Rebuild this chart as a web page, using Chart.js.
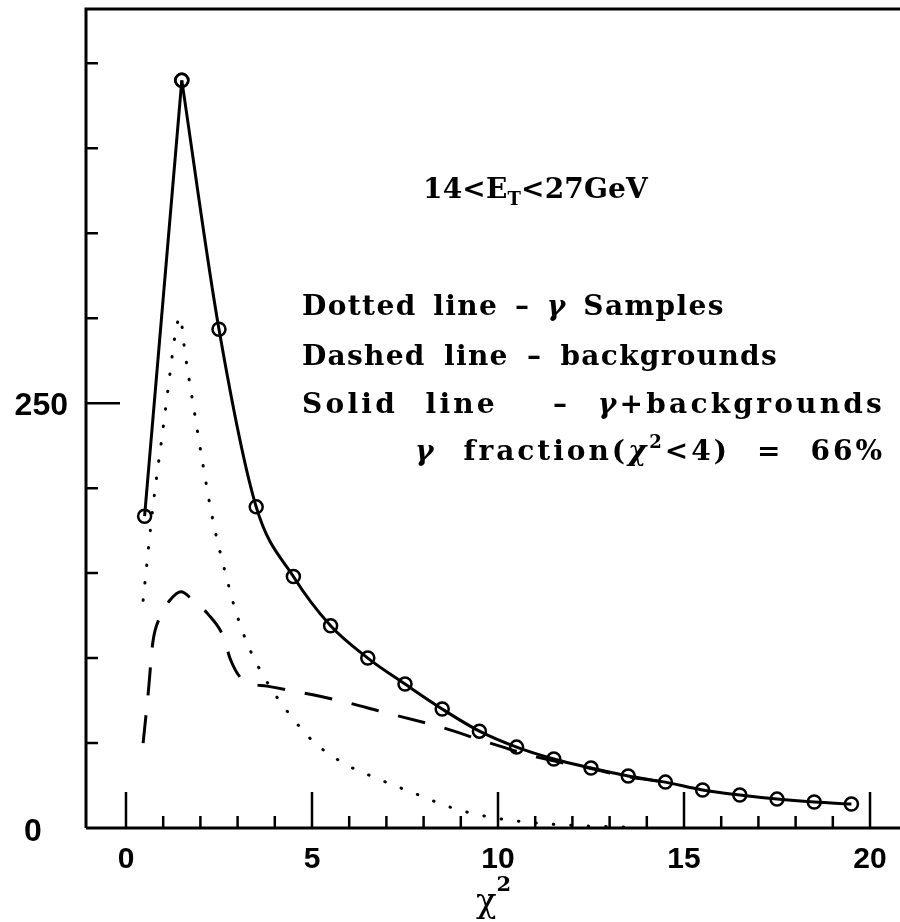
<!DOCTYPE html>
<html>
<head>
<meta charset="utf-8">
<script src="https://cdn.jsdelivr.net/npm/chart.js@4.4.0/dist/chart.umd.min.js"></script>
<style>
  html, body { margin: 0; padding: 0; background: #fff; overflow: hidden; }
  canvas { display: block; }
</style>
</head>
<body>
<canvas id="chi2" width="900" height="922"></canvas>
<script>
// solid line: gamma + backgrounds, one point per chi2 bin
const chiBins = [0.5, 1.5, 2.5, 3.5, 4.5, 5.5, 6.5, 7.5, 8.5, 9.5, 10.5, 11.5, 12.5, 13.5, 14.5, 15.5, 16.5, 17.5, 18.5, 19.5];
const totalCounts = [183.5, 440, 293.5, 189, 148, 119, 100, 84.7, 70, 57, 47.6, 40.6, 35.3, 30.6, 27, 22.4, 19.4, 17, 15.3, 14.1];

// dotted line: gamma samples
const gammaX = [0.46, 0.73, 0.99, 1.18, 1.32, 1.45, 1.59, 1.83, 2.07, 2.34, 2.69, 2.96, 3.31, 3.79, 4.36, 5.03, 5.86, 6.8, 7.8, 8.79, 9.76, 10.78, 12, 13.5];
const gammaY = [134, 190, 234, 267, 290, 301, 279, 246, 213.6, 180.7, 148.5, 126.8, 106, 86, 68, 51, 38, 28.7, 20, 11.7, 6.5, 3.5, 1.5, 0.5];

// dashed line: backgrounds
const bkgX = [0.46, 0.6, 0.72, 0.91, 1.18, 1.48, 1.8, 2.2, 2.63, 2.8, 3.15, 3.79, 4.5, 5.83, 6.83, 8.52, 9.78, 11.05, 12.5, 13.4, 14.3];
const bkgY = [50, 80, 109, 124, 134, 139, 134, 126, 112, 99.6, 87, 83.5, 80.6, 74.5, 68.7, 59, 50, 41.7, 35, 30.6, 27.5];

const xTickLabels = [0, 5, 10, 15, 20];
const yTickLabels = [0, 250];
const yMinorStep = 50;

const serif = '"DejaVu Serif", "Liberation Serif", serif';

function toPoints(xs, ys) {
  return xs.map((x, i) => ({ x: x, y: ys[i] }));
}

// draws a row of text pieces from x0 to x1: part of the slack goes to letter
// spacing (frac), the rest widens the blanks
function drawFit(ctx, x0, x1, y, runs, frac) {
  const toks = [];
  runs.forEach((r) => {
    r.t.split(/( )/).forEach((t) => {
      if (t !== "") toks.push({ t: t, font: r.font, dy: r.dy || 0 });
    });
  });
  ctx.letterSpacing = "0px";
  let w = 0;
  let n = 0;
  let nSp = 0;
  toks.forEach((k) => {
    ctx.font = k.font;
    w += ctx.measureText(k.t).width;
    n += [...k.t].length;
    if (k.t === " ") nSp++;
  });
  const slack = Math.max(0, x1 - x0 - w);
  const ls = nSp ? (slack * frac) / n : slack / Math.max(n, 1);
  const sp = nSp ? (slack * (1 - frac)) / nSp : 0;
  ctx.letterSpacing = ls.toFixed(2) + "px";
  let x = x0;
  toks.forEach((k) => {
    ctx.font = k.font;
    const kw = ctx.measureText(k.t).width;
    if (k.t === " ") {
      x += kw + sp;
    } else {
      ctx.fillText(k.t, x, y + k.dy);
      x += kw;
    }
  });
  ctx.letterSpacing = "0px";
}

// frame, inward ticks and the text written on the plot
const framePlugin = {
  id: "frame",
  afterDraw(chart) {
    const ctx = chart.ctx;
    const area = chart.chartArea;
    const xs = chart.scales.x;
    const ys = chart.scales.y;
    ctx.save();
    ctx.strokeStyle = "#000";
    ctx.fillStyle = "#000";
    ctx.lineWidth = 3;
    ctx.beginPath();
    ctx.moveTo(area.left, area.bottom);
    ctx.lineTo(area.left, area.top);
    ctx.lineTo(area.right, area.top);
    ctx.moveTo(area.left, area.bottom);
    ctx.lineTo(area.right, area.bottom);
    ctx.stroke();

    ctx.lineWidth = 2.5;
    ctx.beginPath();
    for (let v = 0; v <= 20; v++) {
      const px = xs.getPixelForValue(v);
      const len = xTickLabels.includes(v) ? 36 : 12;
      ctx.moveTo(px, area.bottom);
      ctx.lineTo(px, area.bottom - len);
    }
    for (let v = yMinorStep; v < ys.max; v += yMinorStep) {
      const py = ys.getPixelForValue(v);
      const len = yTickLabels.includes(v) ? 34 : 12;
      ctx.moveTo(area.left, py);
      ctx.lineTo(area.left + len, py);
    }
    ctx.stroke();

    // y tick labels
    ctx.font = 'bold 32px "Liberation Sans", Arial, sans-serif';
    ctx.textBaseline = "middle";
    ctx.textAlign = "right";
    ctx.fillText(String(yTickLabels[1]), 68, ys.getPixelForValue(yTickLabels[1]) + 3);
    ctx.textAlign = "center";
    ctx.fillText(String(yTickLabels[0]), 33, ys.getPixelForValue(yTickLabels[0]) + 4);

    // x axis title
    ctx.textAlign = "left";
    ctx.textBaseline = "alphabetic";
    drawFit(ctx, 476, 476, 912, [
      { t: "χ", font: "34px " + serif },
      { t: "2", font: "bold 21px " + serif, dy: -21 },
    ], 1);

    const big = "bold 28px " + serif;
    const gam = "bold italic 28px " + serif;
    const small = "bold 18px " + serif;
    drawFit(ctx, 423, 648, 198, [
      { t: "14<E", font: big },
      { t: "T", font: small, dy: 7 },
      { t: "<27GeV", font: big },
    ], 1);
    drawFit(ctx, 302, 725, 315, [
      { t: "Dotted line – ", font: big },
      { t: "γ", font: gam },
      { t: " Samples", font: big },
    ], 0.6);
    drawFit(ctx, 302, 778, 365, [{ t: "Dashed line – backgrounds", font: big }], 0.6);
    drawFit(ctx, 302, 885, 413, [
      { t: "Solid line  – ", font: big },
      { t: "γ", font: gam },
      { t: "+backgrounds", font: big },
    ], 0.6);
    drawFit(ctx, 415, 885, 460, [
      { t: "γ", font: gam },
      { t: " fraction(", font: big },
      { t: "χ", font: gam },
      { t: "2", font: small, dy: -12 },
      { t: "<4) = 66%", font: big },
    ], 0.6);
    ctx.restore();
  },
};

const ctx = document.getElementById("chi2").getContext("2d");
new Chart(ctx, {
  type: "line",
  data: {
    datasets: [
      {
        label: "gamma + backgrounds (rise)",
        data: toPoints(chiBins.slice(0, 2), totalCounts.slice(0, 2)),
        borderColor: "#000",
        borderWidth: 3,
        tension: 0,
        pointRadius: 6.5,
        pointBorderWidth: 2.5,
        pointBorderColor: "#000",
        pointBackgroundColor: "rgba(0,0,0,0)",
      },
      {
        label: "gamma + backgrounds",
        data: toPoints(chiBins.slice(1), totalCounts.slice(1)),
        borderColor: "#000",
        borderWidth: 3,
        cubicInterpolationMode: "monotone",
        pointRadius: 6.5,
        pointBorderWidth: 2.5,
        pointBorderColor: "#000",
        pointBackgroundColor: "rgba(0,0,0,0)",
      },
      {
        label: "gamma samples",
        data: toPoints(gammaX, gammaY),
        borderColor: "#000",
        borderWidth: 3,
        borderDash: [0.5, 17],
        borderCapStyle: "round",
        cubicInterpolationMode: "monotone",
        pointRadius: 0,
      },
      {
        label: "backgrounds",
        data: toPoints(bkgX, bkgY),
        borderColor: "#000",
        borderWidth: 3,
        borderDash: [28, 20],
        cubicInterpolationMode: "monotone",
        pointRadius: 0,
      },
    ],
  },
  options: {
    responsive: false,
    animation: false,
    layout: { autoPadding: false, padding: { top: 9, left: 0, right: 0, bottom: 0 } },
    plugins: {
      legend: { display: false },
      tooltip: { enabled: false },
    },
    scales: {
      x: {
        type: "linear",
        min: -1.075,
        max: 20.806,
        afterBuildTicks: (scale) => {
          scale.ticks = xTickLabels.map((v) => ({ value: v }));
        },
        afterFit: (scale) => {
          scale.height = 94;
          scale.paddingLeft = 0;
          scale.paddingRight = 0;
        },
        grid: { display: false, drawTicks: false },
        border: { display: false },
        ticks: {
          color: "#000",
          padding: 14,
          maxRotation: 0,
          autoSkip: false,
          font: { family: '"Liberation Sans", Arial, sans-serif', size: 30, weight: "bold" },
        },
      },
      y: {
        min: 0,
        max: 482,
        afterFit: (scale) => {
          scale.width = 86;
        },
        grid: { display: false, drawTicks: false },
        border: { display: false },
        ticks: { display: false },
      },
    },
  },
  plugins: [framePlugin],
});
</script>
</body>
</html>
